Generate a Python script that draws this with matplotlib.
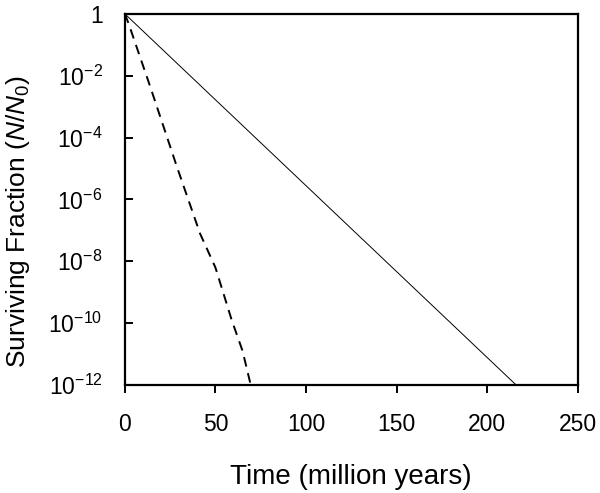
import matplotlib
matplotlib.use("Agg")
import matplotlib.pyplot as plt
import numpy as np

plt.rcParams['font.family'] = ['Liberation Sans', 'DejaVu Sans']
plt.rcParams['mathtext.fontset'] = 'custom'
plt.rcParams['mathtext.rm'] = 'Liberation Sans'
plt.rcParams['mathtext.it'] = 'Liberation Sans:italic'
plt.rcParams['mathtext.default'] = 'regular'

# Solid series (straight exponential decay)
solid_time = [0, 216]
solid_frac = [1.0, 1e-12]

# Dashed series (faster decay)
dashed_time = [0, 2, 14, 28.5, 35, 41.5, 50, 59, 65, 69.5]
dashed_exp = [0, -0.3, -2.35, -4.9, -6.0, -7.1, -8.2, -9.9, -10.9, -12.0]
dashed_frac = [10.0 ** e for e in dashed_exp]

x_ticks = [0, 50, 100, 150, 200, 250]
y_ticks = [1, 1e-2, 1e-4, 1e-6, 1e-8, 1e-10, 1e-12]
y_tick_labels = ['1', '$10^{-2}$', '$10^{-4}$', '$10^{-6}$', '$10^{-8}$', '$10^{-10}$', '$10^{-12}$']

fig = plt.figure(figsize=(6, 4.93), dpi=100)
ax = fig.add_axes([0.208, 0.219, 0.755, 0.753])

ax.plot(solid_time, solid_frac, color='black', lw=0.7)
ax.plot(dashed_time, dashed_frac, color='black', lw=1.4, dashes=(5, 3.5))

ax.set_yscale('log')
ax.set_xlim(0, 250)
ax.set_ylim(1e-12, 1)
ax.set_xticks(x_ticks)
ax.set_xticklabels([str(t) for t in x_ticks])
ax.set_yticks(y_ticks)
ax.set_yticklabels(y_tick_labels)
ax.minorticks_off()

for s in ax.spines.values():
    s.set_linewidth(1.6)

ax.tick_params(axis='x', direction='out', length=6, width=1.4, labelsize=16.5, pad=14)
ax.tick_params(axis='y', direction='in', length=6, width=1.4, labelsize=16.5, pad=16)

ax.set_xlabel('Time (million years)', fontsize=20, labelpad=20)
ax.set_ylabel('Surviving Fraction ($\\mathit{N}$/$\\mathit{N}_0$)', fontsize=19)
ax.yaxis.set_label_coords(-0.205, 0.44)

fig.savefig('out.png', dpi=100)
